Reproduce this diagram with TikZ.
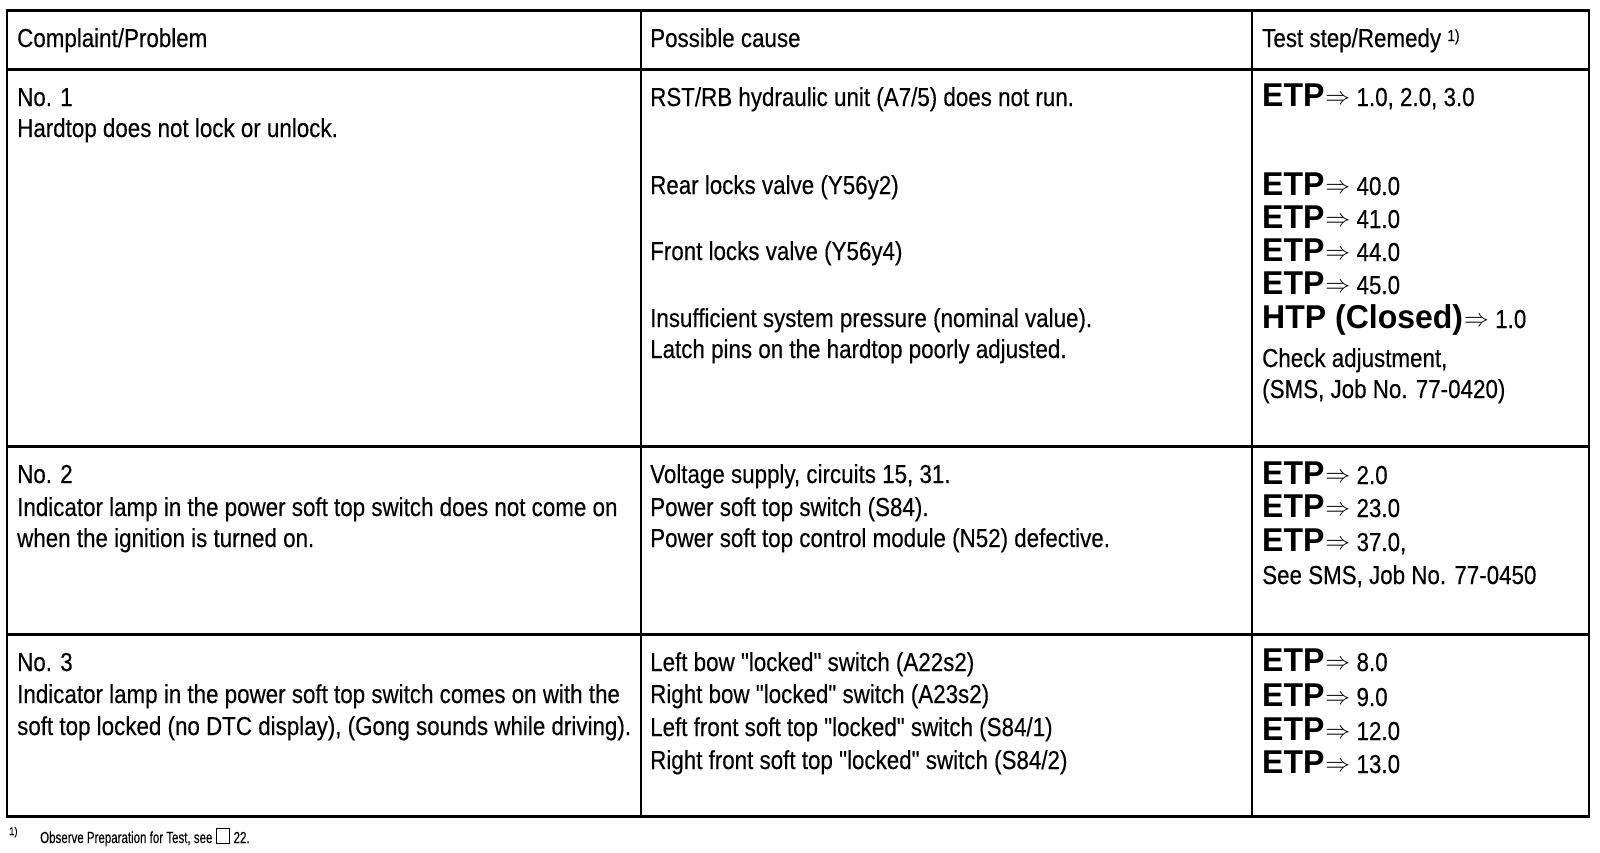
\documentclass[tikz,border=0pt]{standalone}
\usepackage{fontspec}
\setmainfont{Liberation Sans}[FakeStretch=0.86,FakeBold=0.3,Ligatures=TeXOff]
\newfontfamily\etpfont{Liberation Sans}[FakeStretch=0.97]
\newfontfamily\fnfont{Liberation Sans}[FakeStretch=0.72,FakeBold=0.3]
\usepackage{tikz}

\newcommand{\tstep}[2]{{\etpfont\bfseries\fontsize{33}{33}\selectfont #1}\kern1pt\raisebox{2pt}{\fontsize{28}{28}\selectfont$\Rightarrow$}\ #2}
\newcommand{\refbox}{{\setlength\fboxsep{0pt}\setlength\fboxrule{1.4pt}\fbox{\rule{0pt}{14pt}\hspace{12pt}}}}

\begin{document}
\begin{tikzpicture}[x=1pt,y=-1pt,
    txt/.style={anchor=base west,inner sep=0pt,font=\fontsize{26}{30}\selectfont},
    fnote/.style={anchor=base west,inner sep=0pt,font=\fnfont\fontsize{16}{18}\selectfont},
    hrule/.style={line width=3pt},
    vrule/.style={line width=2pt}]
    \useasboundingbox (0,0) rectangle (1600,852);
    % table rules
    \foreach \y in {10,69,446,634,816}
        \draw[hrule] (6,\y) -- (1590,\y);
    \foreach \x in {7,641,1252,1589}
        \draw[vrule] (\x,10) -- (\x,816);
    % header
    \node[txt] (head1) at (17,47) {Complaint/Problem};
    \node[txt] (head2) at (650,47) {Possible cause};
    \node[txt] (head3) at (1262,47) {Test step/Remedy \raisebox{6pt}{\fontsize{16}{16}\selectfont 1)}};
    % row 1
    \node[txt] (no1) at (17,106) {No. 1};
    \node[txt] (prob1) at (17,137) {Hardtop does not lock or unlock.};
    \node[txt] (cause1a) at (650,106) {RST/RB hydraulic unit (A7/5) does not run.};
    \node[txt] (cause1b) at (650,194) {Rear locks valve (Y56y2)};
    \node[txt] (cause1c) at (650,260) {Front locks valve (Y56y4)};
    \node[txt] (cause1d) at (650,327) {Insufficient system pressure (nominal value).};
    \node[txt] (cause1e) at (650,358) {Latch pins on the hardtop poorly adjusted.};
    \node[txt] (test1a) at (1262,106) {\tstep{ETP}{1.0, 2.0, 3.0}};
    \node[txt] (test1b) at (1262,195) {\tstep{ETP}{40.0}};
    \node[txt] (test1c) at (1262,228) {\tstep{ETP}{41.0}};
    \node[txt] (test1d) at (1262,261) {\tstep{ETP}{44.0}};
    \node[txt] (test1e) at (1262,294) {\tstep{ETP}{45.0}};
    \node[txt] (test1f) at (1262,328) {\tstep{HTP (Closed)}{1.0}};
    \node[txt] (test1g) at (1262,367) {Check adjustment,};
    \node[txt] (test1h) at (1262,398) {(SMS, Job No. 77-0420)};
    % row 2
    \node[txt] (no2) at (17,483) {No. 2};
    \node[txt] (prob2a) at (17,516) {Indicator lamp in the power soft top switch does not come on};
    \node[txt] (prob2b) at (17,547) {when the ignition is turned on.};
    \node[txt] (cause2a) at (650,483) {Voltage supply, circuits 15, 31.};
    \node[txt] (cause2b) at (650,516) {Power soft top switch (S84).};
    \node[txt] (cause2c) at (650,547) {Power soft top control module (N52) defective.};
    \node[txt] (test2a) at (1262,484) {\tstep{ETP}{2.0}};
    \node[txt] (test2b) at (1262,517) {\tstep{ETP}{23.0}};
    \node[txt] (test2c) at (1262,551) {\tstep{ETP}{37.0,}};
    \node[txt] (test2d) at (1262,584) {See SMS, Job No. 77-0450};
    % row 3
    \node[txt] (no3) at (17,671) {No. 3};
    \node[txt] (prob3a) at (17,703) {Indicator lamp in the power soft top switch comes on with the};
    \node[txt] (prob3b) at (17,735) {soft top locked (no DTC display), (Gong sounds while driving).};
    \node[txt] (cause3a) at (650,671) {Left bow "locked" switch (A22s2)};
    \node[txt] (cause3b) at (650,703) {Right bow "locked" switch (A23s2)};
    \node[txt] (cause3c) at (650,736) {Left front soft top "locked" switch (S84/1)};
    \node[txt] (cause3d) at (650,769) {Right front soft top "locked" switch (S84/2)};
    \node[txt] (test3a) at (1262,671) {\tstep{ETP}{8.0}};
    \node[txt] (test3b) at (1262,706) {\tstep{ETP}{9.0}};
    \node[txt] (test3c) at (1262,740) {\tstep{ETP}{12.0}};
    \node[txt] (test3d) at (1262,773) {\tstep{ETP}{13.0}};
    % footnote
    \node[fnote,font=\fontsize{11}{12}\selectfont] (fnmark) at (9,835) {1)};
    \node[fnote] (fntext) at (40,843) {Observe Preparation for Test, see \refbox\ 22.};
\end{tikzpicture}
\end{document}
